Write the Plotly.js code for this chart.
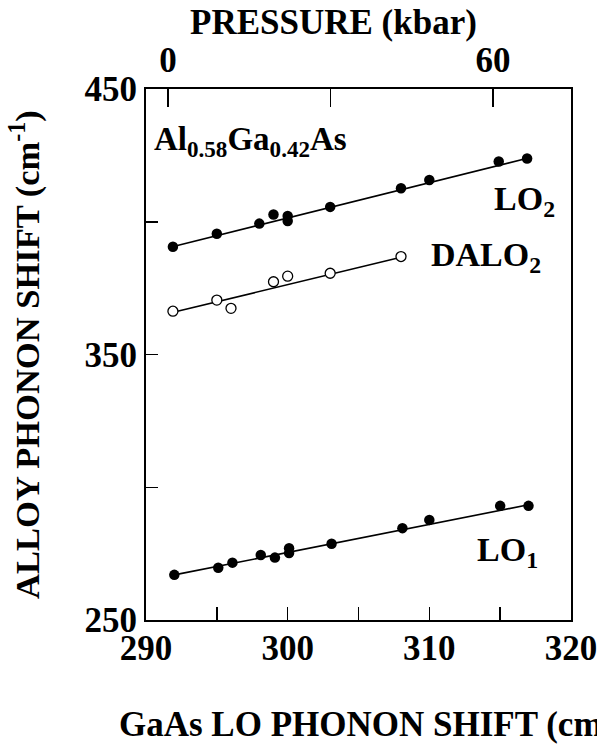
<!DOCTYPE html>
<html><head><meta charset="utf-8">
<script src="https://cdn.plot.ly/plotly-3.0.1.min.js"></script>
<style>html,body{margin:0;padding:0;background:#fff}#chart{width:597px;height:750px}</style>
</head><body><div id="chart"></div>
<script>
// LO2 (filled)
const lo2X = [291.9, 295.0, 298.0, 299.0, 300.0, 300.0, 303.0, 308.0, 310.0, 314.9, 316.9];
const lo2Y = [390.6, 395.5, 399.3, 402.7, 402.2, 400.3, 405.6, 412.6, 415.7, 422.7, 423.8];
// DALO2 (open)
const daloX = [291.9, 295.0, 296.0, 299.0, 300.0, 303.0, 308.0];
const daloY = [366.3, 370.5, 367.4, 377.4, 379.5, 380.6, 386.9];
// LO1 (filled)
const lo1X = [292.0, 295.1, 296.1, 298.1, 299.1, 300.1, 300.1, 303.1, 308.1, 310.0, 315.0, 317.0];
const lo1Y = [267.0, 269.7, 271.6, 274.5, 273.5, 277.0, 275.2, 278.7, 284.6, 287.7, 293.0, 293.0];
// fitted lines (endpoints)
const lo2FitX = [292, 317], lo2FitY = [390.8, 424.0];
const daloFitX = [292, 308], daloFitY = [366.0, 386.6];
const lo1FitX = [292, 317], lo1FitY = [267.0, 293.4];
// ticks
const xTicks = [290, 295, 300, 305, 310, 315, 320];
const xTickText = ['<b>290</b>', '', '<b>300</b>', '', '<b>310</b>', '', '<b>320</b>'];
const yTicks = [250, 300, 350, 400, 450];
const yTickText = ['<b>250</b>', '', '<b>350</b>', '', '<b>450</b>'];
const pTicks = [0, 30, 60];
const pTickText = ['<b>0</b>', '', '<b>60</b>'];

const F = 'Liberation Serif';
const line = {color: '#000', width: 1.6};
const traces = [
  {x: lo2FitX, y: lo2FitY, mode: 'lines', line: line, hoverinfo: 'skip'},
  {x: daloFitX, y: daloFitY, mode: 'lines', line: line, hoverinfo: 'skip'},
  {x: lo1FitX, y: lo1FitY, mode: 'lines', line: line, hoverinfo: 'skip'},
  {x: lo2X, y: lo2Y, mode: 'markers', marker: {color: '#000', size: 10.5}},
  {x: daloX, y: daloY, mode: 'markers', marker: {color: '#fff', size: 10, line: {color: '#000', width: 1.3}}},
  {x: lo1X, y: lo1Y, mode: 'markers', marker: {color: '#000', size: 10.5}},
  {x: [0, 60], y: [null, null], xaxis: 'x2', mode: 'markers', hoverinfo: 'skip'}
];
const layout = {
  width: 597, height: 750,
  margin: {l: 146, r: 26, t: 89, b: 130},
  showlegend: false,
  paper_bgcolor: '#fff', plot_bgcolor: '#fff',
  font: {family: F, color: '#000', size: 34},
  xaxis: {
    range: [290, 320], tickvals: xTicks, ticktext: xTickText,
    ticks: 'inside', ticklen: 13, tickwidth: 1.5, tickcolor: '#000',
    showline: true, linewidth: 2, linecolor: '#000', mirror: true,
    showgrid: false, zeroline: false, ticklabeloverflow: 'allow',
    ticklabelstandoff: -4,
    tickfont: {family: F, size: 35, color: '#000'}
  },
  xaxis2: {
    overlaying: 'x', side: 'top', anchor: 'y',
    range: [-4.06, 74.4], tickvals: pTicks, ticktext: pTickText,
    ticks: 'inside', ticklen: 18, tickwidth: 1.5, tickcolor: '#000',
    showline: false, showgrid: false, zeroline: false, ticklabeloverflow: 'allow',
    ticklabelstandoff: 9,
    tickfont: {family: F, size: 35, color: '#000'}
  },
  yaxis: {
    range: [250, 450], tickvals: yTicks, ticktext: yTickText,
    ticks: 'inside', ticklen: 12, tickwidth: 1.5, tickcolor: '#000',
    showline: true, linewidth: 2, linecolor: '#000', mirror: true,
    showgrid: false, zeroline: false, ticklabeloverflow: 'allow',
    tickfont: {family: F, size: 35, color: '#000'},
    title: {text: '<b>ALLOY PHONON SHIFT (cm<sup>-1</sup>)</b>', font: {family: F, size: 34.5, color: '#000'}, standoff: 34}
  },
  annotations: [
    {text: '<b>PRESSURE (kbar)</b>', xref: 'paper', yref: 'paper', x: 0.44, y: 1.126, xanchor: 'center', yanchor: 'middle', showarrow: false, font: {family: F, size: 35, color: '#000'}},
    {text: '<b>GaAs LO PHONON SHIFT (cm<sup>-1</sup>)</b>', xref: 'paper', yref: 'paper', x: -0.068, y: -0.192, xanchor: 'left', yanchor: 'middle', showarrow: false, font: {family: F, size: 35, color: '#000'}},
    {text: '<b>Al<sub>0.58</sub>Ga<sub>0.42</sub>As</b>', xref: 'paper', yref: 'y', x: 0.015, y: 430.4, xanchor: 'left', yanchor: 'middle', showarrow: false, font: {family: F, size: 33, color: '#000'}},
    {text: '<b>LO<sub>2</sub></b>', xref: 'x', yref: 'y', x: 319.0, y: 407.7, xanchor: 'right', yanchor: 'middle', showarrow: false, font: {family: F, size: 34, color: '#000'}},
    {text: '<b>DALO<sub>2</sub></b>', xref: 'x', yref: 'y', x: 318.0, y: 386.6, xanchor: 'right', yanchor: 'middle', showarrow: false, font: {family: F, size: 34, color: '#000'}},
    {text: '<b>LO<sub>1</sub></b>', xref: 'x', yref: 'y', x: 317.8, y: 275.7, xanchor: 'right', yanchor: 'middle', showarrow: false, font: {family: F, size: 34, color: '#000'}}
  ]
};
Plotly.newPlot('chart', traces, layout, {staticPlot: true});
</script></body></html>
